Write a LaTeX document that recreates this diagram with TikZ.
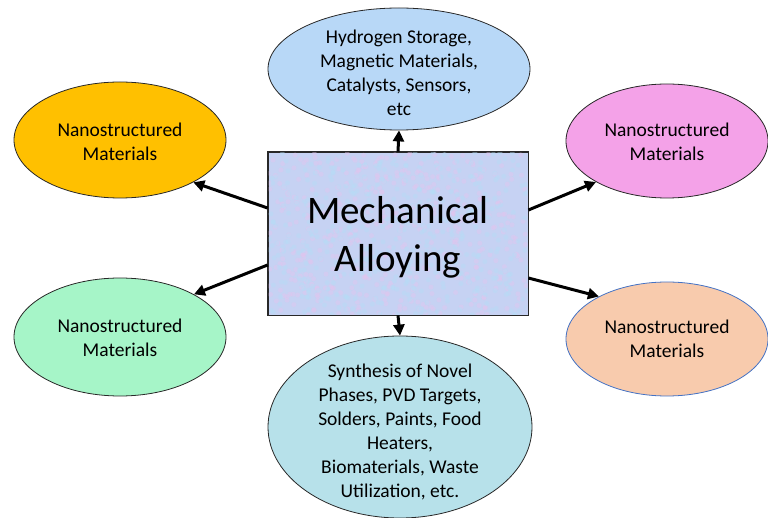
\documentclass[tikz,border=0pt]{standalone}
\usepackage{fontspec}
\setmainfont{Carlito}
\usetikzlibrary{shapes.geometric,arrows.meta,calc}
\definecolor{topblue}{RGB}{184,216,247}
\definecolor{orangefill}{RGB}{255,192,0}
\definecolor{pinkfill}{RGB}{244,162,232}
\definecolor{greenfill}{RGB}{166,245,200}
\definecolor{peachfill}{RGB}{248,203,173}
\definecolor{peachline}{RGB}{68,114,196}
\definecolor{cyanfill}{RGB}{183,225,234}
\definecolor{rectfill}{RGB}{198,210,243}
\definecolor{speckpink}{RGB}{228,195,238}
\definecolor{speckcyan}{RGB}{180,222,247}
\definecolor{outline}{RGB}{40,40,40}
\tikzset{
  bubble/.style={ellipse, draw=outline, line width=0.8pt, inner sep=0pt},
  smallbubble/.style={bubble, minimum width=212pt, minimum height=116pt},
  btext/.style={align=center, inner sep=0pt, font=\fontsize{19.5}{24}\selectfont},
  arr/.style={line width=3pt, -{Triangle[length=11pt,width=11pt]}}
}
\begin{document}
\begin{tikzpicture}[x=1pt,y=-1pt]
\useasboundingbox (0,0) rectangle (768,518);
% central rectangle
\node[draw=outline, line width=0.8pt, fill=rectfill, minimum width=260pt, minimum height=163pt, inner sep=0pt] (rect) at (398,233.5) {};
\begin{scope}
\clip (268.5,152.5) rectangle (527.5,314.5);
\pgfmathsetseed{7}
\foreach \i in {1,...,450}{
  \pgfmathsetmacro{\rx}{268+260*rnd}
  \pgfmathsetmacro{\ry}{152+163*rnd}
  \fill[speckpink, opacity=0.4] (\rx,\ry) circle (2.5pt);
}
\foreach \i in {1,...,450}{
  \pgfmathsetmacro{\rx}{268+260*rnd}
  \pgfmathsetmacro{\ry}{152+163*rnd}
  \fill[speckcyan, opacity=0.4] (\rx,\ry) circle (2.5pt);
}
\end{scope}
\draw[outline, line width=0.8pt] (rect.north west) rectangle (rect.south east);
\node[align=center, font=\fontsize{39}{48}\selectfont] (title) at (398,237.5) {Mechanical\\Alloying};
% ellipses
\node[bubble, fill=topblue, minimum width=262pt, minimum height=122pt] (top) at (399,69) {};
\node[btext] (toptext) at (399,72.5) {Hydrogen Storage,\\Magnetic Materials,\\Catalysts, Sensors,\\etc};
\node[bubble, fill=cyanfill, minimum width=264pt, minimum height=182pt] (bottom) at (400,427) {};
\node[btext] (bottomtext) at (400,431.5) {Synthesis of Novel\\Phases, PVD Targets,\\Solders, Paints, Food\\Heaters,\\Biomaterials, Waste\\Utilization, etc.};
\node[smallbubble, fill=orangefill] (orange) at (120,140) {};
\node[btext] (orangetext) at (120,141.5) {Nanostructured\\Materials};
\node[smallbubble, fill=greenfill, minimum height=118pt] (green) at (120,337) {};
\node[btext] (greentext) at (120,338) {Nanostructured\\Materials};
\node[smallbubble, fill=pinkfill, minimum width=202pt, minimum height=114pt] (pink) at (667,141) {};
\node[btext] (pinktext) at (667,141.5) {Nanostructured\\Materials};
\node[smallbubble, fill=peachfill, draw=peachline, minimum width=202pt, minimum height=114pt] (peach) at (667,339) {};
\node[btext] (peachtext) at (667,338.5) {Nanostructured\\Materials};
% connectors
\draw[arr] (rect.north) -- (top.south);
\draw[arr] (rect.south) -- (bottom.north);
\draw[arr] ([yshift=25.5pt]rect.west) -- (orange.-30);
\draw[arr] ([yshift=-31.5pt]rect.west) -- (green.30);
\draw[arr] ([yshift=23.5pt]rect.east) -- (pink.210);
\draw[arr] ([yshift=-44.5pt]rect.east) -- (peach.148);
\end{tikzpicture}
\end{document}
